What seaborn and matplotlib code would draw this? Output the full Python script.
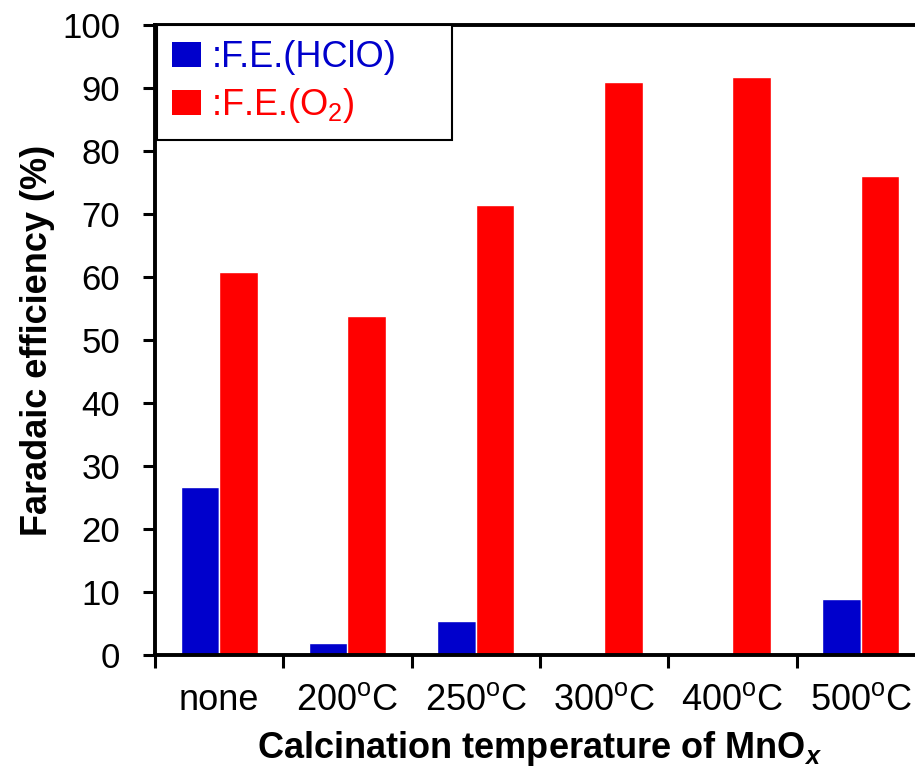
import numpy as np
import pandas as pd
import matplotlib
matplotlib.use("Agg")
import matplotlib.pyplot as plt
import seaborn as sns
from matplotlib.patches import Patch

categories = ["none", "200$^{\\mathrm{o}}$C", "250$^{\\mathrm{o}}$C", "300$^{\\mathrm{o}}$C",
              "400$^{\\mathrm{o}}$C", "500$^{\\mathrm{o}}$C"]
hclo = [26.7, 1.9, 5.4, 0.0, 0.3, 8.9]
o2 = [60.8, 53.8, 71.5, 91.0, 91.8, 76.0]
series_names = [":F.E.(HClO)", ":F.E.(O$_2$)"]
yticks = [0, 10, 20, 30, 40, 50, 60, 70, 80, 90, 100]

blue = "#0000CC"
red = "#FF0000"

sns.set_style("white")
plt.rcParams["font.family"] = ["Liberation Sans", "DejaVu Sans"]
plt.rcParams["text.color"] = "black"
plt.rcParams["axes.labelcolor"] = "black"
plt.rcParams["xtick.color"] = "black"
plt.rcParams["ytick.color"] = "black"
plt.rcParams["mathtext.fontset"] = "custom"
plt.rcParams["mathtext.rm"] = "Liberation Sans"
plt.rcParams["mathtext.it"] = "Liberation Sans:italic"
plt.rcParams["mathtext.bf"] = "Liberation Sans:bold"
plt.rcParams["mathtext.bfit"] = "Liberation Sans:italic:bold"

df = pd.DataFrame({
    "cat": categories * 2,
    "val": hclo + o2,
    "series": [series_names[0]] * len(categories) + [series_names[1]] * len(categories),
})

fig = plt.figure(figsize=(9.15, 7.71), dpi=100)
ax = fig.add_axes([155 / 915, 116 / 771, 770 / 915, 630 / 771])

sns.barplot(data=df, x="cat", y="val", hue="series", palette=[blue, red],
            width=0.6, saturation=1, ax=ax, legend=False, errorbar=None)

ax.set_xlim(-0.5, 5.5)
ax.set_ylim(0, 100)
ax.set_yticks(yticks)
ax.set_yticklabels([str(v) for v in yticks])
ax.set_xticks(range(len(categories)))
ax.set_xticklabels(categories)
ax.set_xticks(np.arange(-0.5, len(categories), 1.0), minor=True)

ax.tick_params(axis="x", which="major", length=0, pad=20, labelsize=26)
ax.tick_params(axis="x", which="minor", length=9, width=2.2, direction="out", bottom=True)
ax.tick_params(axis="y", which="major", length=9, width=2.2, direction="out", left=True,
               pad=16, labelsize=25)

for side in ["left", "bottom", "top"]:
    ax.spines[side].set_visible(True)
    ax.spines[side].set_linewidth(2.8)
    ax.spines[side].set_color("black")
ax.spines["right"].set_visible(False)

ax.set_xlabel("Calcination temperature of MnO$_{\\mathbfit{x}}$", fontsize=26,
              fontweight="bold", labelpad=8)
ax.set_ylabel("Faradaic efficiency (%)", fontsize=26, fontweight="bold", labelpad=5)

handles = [Patch(facecolor=blue, edgecolor="none"), Patch(facecolor=red, edgecolor="none")]
leg = ax.legend(handles, series_names, loc="upper left",
                bbox_to_anchor=(0.003, 1.0, 0.383, 0.0), mode="expand",
                borderaxespad=0, fontsize=26, frameon=True, fancybox=False,
                handlelength=0.78, handleheight=0.72, handletextpad=0.3,
                labelspacing=0.3, borderpad=0.42)
leg.get_frame().set_edgecolor("black")
leg.get_frame().set_linewidth(1.5)
leg.get_frame().set_alpha(1)
for txt, c in zip(leg.get_texts(), [blue, red]):
    txt.set_color(c)

fig.savefig("out.png", dpi=100)
